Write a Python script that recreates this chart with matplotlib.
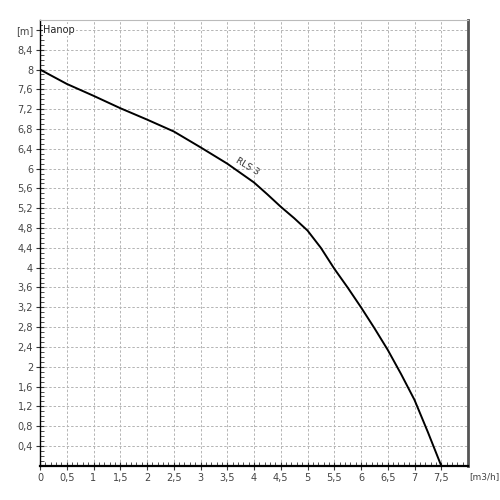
import matplotlib
matplotlib.use('Agg')
import matplotlib.pyplot as plt
import numpy as np
from matplotlib.ticker import FixedLocator, FixedFormatter, MultipleLocator

# pump curve RLS 3
flow = [0, 0.5, 1, 1.5, 2, 2.5, 3, 3.5, 3.75, 4, 4.25, 4.5, 4.75, 5, 5.25, 5.5, 5.75, 6, 6.25, 6.5, 6.75, 7, 7.25, 7.5]
head = [8.0, 7.71, 7.47, 7.22, 6.99, 6.75, 6.43, 6.1, 5.91, 5.72, 5.48, 5.23, 5.0, 4.75, 4.4, 3.98, 3.6, 3.2,
        2.78, 2.34, 1.85, 1.33, 0.68, 0.0]

x_ticks = [0, 0.5, 1, 1.5, 2, 2.5, 3, 3.5, 4, 4.5, 5, 5.5, 6, 6.5, 7, 7.5]
x_labels = ['0', '0,5', '1', '1,5', '2', '2,5', '3', '3,5', '4', '4,5', '5', '5,5', '6', '6,5', '7', '7,5']
y_ticks = [0.4, 0.8, 1.2, 1.6, 2, 2.4, 2.8, 3.2, 3.6, 4, 4.4, 4.8, 5.2, 5.6, 6, 6.4, 6.8, 7.2, 7.6, 8, 8.4, 8.8]
y_labels = ['0,4', '0,8', '1,2', '1,6', '2', '2,4', '2,8', '3,2', '3,6', '4', '4,4', '4,8', '5,2', '5,6',
            '6', '6,4', '6,8', '7,2', '7,6', '8', '8,4', '[m]']

txt = '#444444'
fig = plt.figure(figsize=(5, 5), dpi=100)
ax = fig.add_axes([0.08, 0.0684, 0.856, 0.8916])

ax.plot(flow, head, color='black', lw=1.4, zorder=3, solid_joinstyle='round')

ax.set_xlim(0, 8)
ax.set_ylim(0, 9)

ax.xaxis.set_major_locator(FixedLocator(x_ticks))
ax.xaxis.set_major_formatter(FixedFormatter(x_labels))
ax.yaxis.set_major_locator(FixedLocator(y_ticks))
ax.yaxis.set_major_formatter(FixedFormatter(y_labels))
ax.xaxis.set_minor_locator(MultipleLocator(0.1))
ax.yaxis.set_minor_locator(MultipleLocator(0.1))

ax.grid(True, which='major', color='#b4b4b4', ls=(0, (2.5, 2)), lw=0.7)
ax.tick_params(which='major', direction='inout', length=6, width=0.8, color='#333333',
               labelsize=7, labelcolor=txt, pad=2)
ax.tick_params(which='minor', direction='in', length=3, width=0.6, color='#333333')

ax.spines['left'].set_color('black')
ax.spines['left'].set_linewidth(1.0)
ax.spines['bottom'].set_color('black')
ax.spines['bottom'].set_linewidth(1.6)
ax.spines['right'].set_color('#555555')
ax.spines['right'].set_linewidth(2.0)
ax.spines['top'].set_color('#bbbbbb')
ax.spines['top'].set_linewidth(0.8)

ax.annotate('[m3/h]', xy=(8, 0), xytext=(1, -8), textcoords='offset points',
            ha='left', va='center', fontsize=6.5, color=txt)
ax.text(0.06, 8.8, 'Hanop', ha='left', va='center', fontsize=7, color='#222222',
        bbox=dict(facecolor='white', edgecolor='none', pad=0.5))
ax.text(3.88, 6.05, 'RLS 3', rotation=-31, ha='center', va='center', fontsize=6.5, color='#333333')

fig.savefig('out.png', dpi=100)
